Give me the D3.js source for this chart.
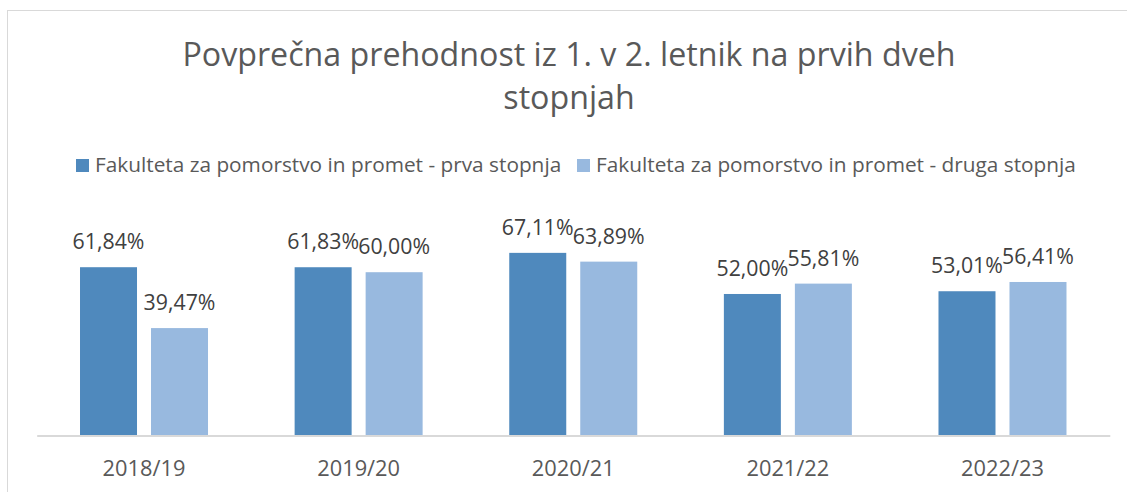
<!DOCTYPE html>
<html>
<head>
<meta charset="utf-8">
<script src="https://cdn.jsdelivr.net/npm/d3@7"></script>
<style>
  body { margin: 0; background: #fff; }
  svg { display: block; font-family: "Open Sans", Lato, sans-serif; }
</style>
</head>
<body>
<svg id="chart" width="1127" height="492"></svg>
<script>
// chart data
var years = ["2018/19", "2019/20", "2020/21", "2021/22", "2022/23"];
var seriesNames = ["Fakulteta za pomorstvo in promet - prva stopnja", "Fakulteta za pomorstvo in promet - druga stopnja"];
var prva = [61.84, 61.83, 67.11, 52.00, 53.01];
var druga = [39.47, 60.00, 63.89, 55.81, 56.41];
var colors = ["#4f89bd", "#98b9df"];

var svg = d3.select("#chart");

// outer frame
svg.append("rect")
    .attr("x", 7.5).attr("y", 10.5)
    .attr("width", 1125).attr("height", 490)
    .attr("fill", "#fff")
    .attr("stroke", "#d9d9d9");

// title
var title = svg.append("text")
    .attr("text-anchor", "middle")
    .attr("fill", "#595959")
    .style("font-size", "32.2px");
title.append("tspan").attr("x", 569).attr("y", 66).text("Povprečna prehodnost iz 1. v 2. letnik na prvih dveh");
title.append("tspan").attr("x", 569).attr("y", 109).text("stopnjah");

// legend
var legendX = [76, 577];
var legend = svg.selectAll(".legend")
    .data(seriesNames)
    .enter().append("g")
    .attr("class", "legend")
    .attr("transform", function(d, i) { return "translate(" + legendX[i] + ",159)"; });

legend.append("rect")
    .attr("width", 13).attr("height", 13)
    .attr("fill", function(d, i) { return colors[i]; });

legend.append("text")
    .attr("x", 19).attr("y", 13)
    .attr("fill", "#595959")
    .style("font-size", "20.8px")
    .text(function(d) { return d; });

// scales
var x = d3.scaleBand()
    .domain(years)
    .range([36.7, 1109.8])
    .paddingInner(0)
    .paddingOuter(0);

var bar = 57, gap = 14;

var y = d3.scaleLinear()
    .domain([0, 70])
    .range([435.5, 245]);

var rows = [];
years.forEach(function(yr, i) {
    rows.push({ year: yr, s: 0, v: prva[i] });
    rows.push({ year: yr, s: 1, v: druga[i] });
});

function barX(d) {
    var c = x(d.year) + x.bandwidth() / 2;
    return d.s == 0 ? c - gap / 2 - bar : c + gap / 2;
}

svg.selectAll(".bar")
    .data(rows)
    .enter().append("rect")
    .attr("class", "bar")
    .attr("x", barX)
    .attr("width", bar)
    .attr("y", function(d) { return y(d.v); })
    .attr("height", function(d) { return y(0) - y(d.v); })
    .attr("fill", function(d) { return colors[d.s]; });

// data labels
svg.selectAll(".lbl")
    .data(rows)
    .enter().append("text")
    .attr("class", "lbl")
    .attr("x", function(d) { return barX(d) + bar / 2; })
    .attr("y", function(d) { return y(d.v) - 18; })
    .attr("text-anchor", "middle")
    .attr("fill", "#404040")
    .style("font-size", "21.3px")
    .text(function(d) { return d.v.toFixed(2).replace(".", ",") + "%"; });

// x axis
var xAxis = d3.axisBottom(x).tickSize(0).tickPadding(24);
var gx = svg.append("g")
    .attr("transform", "translate(0," + y(0) + ")")
    .call(xAxis);
gx.select(".domain").attr("stroke", "#d9d9d9").attr("stroke-width", 2);
gx.selectAll("text")
    .attr("fill", "#595959")
    .attr("dy", null)
    .attr("y", 40.5)
    .style("font-family", "'Open Sans', Lato, sans-serif")
    .style("font-size", "21.8px");
</script>
</body>
</html>
